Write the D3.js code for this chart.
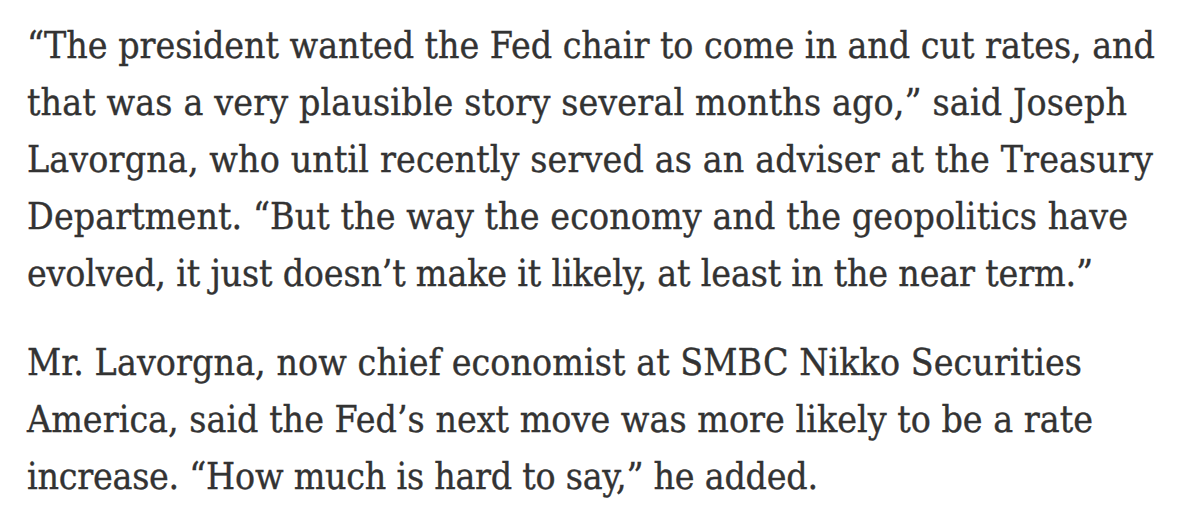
<!DOCTYPE html>
<html>
<head>
<meta charset="utf-8">
<script src="https://cdn.jsdelivr.net/npm/d3@7"></script>
<style>
  html, body { margin: 0; padding: 0; background: #ffffff; }
  svg { display: block; }
</style>
</head>
<body>
<svg id="chart"></svg>
<script>
// Page size
const WIDTH = 1200;
const HEIGHT = 526;

// Text lines, as broken in the reference
const paragraph1 = [
  "\u201CThe president wanted the Fed chair to come in and cut rates, and",
  "that was a very plausible story several months ago,\u201D said Joseph",
  "Lavorgna, who until recently served as an adviser at the Treasury",
  "Department. \u201CBut the way the economy and the geopolitics have",
  "evolved, it just doesn\u2019t make it likely, at least in the near term.\u201D"
];
const paragraph2 = [
  "Mr. Lavorgna, now chief economist at SMBC Nikko Securities",
  "America, said the Fed\u2019s next move was more likely to be a rate",
  "increase. \u201CHow much is hard to say,\u201D he added."
];

// Right edge of each line
const lineEnds1 = [1155, 1127, 1153, 1128, 1093];
const lineEnds2 = [1082, 1093, 818];

const textColor = '#333333';
const leftX = 27;

const svg = d3.select("#chart")
    .attr("width", WIDTH)
    .attr("height", HEIGHT);

// Baselines: one scale per paragraph, 57px leading
const y1 = d3.scaleLinear().domain([0, 4]).range([58, 286]);
const y2 = d3.scaleLinear().domain([0, 2]).range([375, 489]);

function drawParagraph(lines, ends, yScale, cls) {
    return svg.selectAll("text." + cls)
        .data(lines.map((t, i) => ({ text: t, end: ends[i], i: i })))
        .enter()
        .append("text")
        .attr("class", cls)
        .attr("x", leftX)
        .attr("y", d => yScale(d.i))
        .attr("fill", textColor)
        .attr("stroke", textColor)
        .attr("stroke-width", 0.35)
        .style("font-family", "'DejaVu Serif Condensed', 'DejaVu Serif', serif")
        .style("font-stretch", "condensed")
        .style("font-size", "34px")
        .text(d => d.text);
}

drawParagraph(paragraph1, lineEnds1, y1, "p1");
drawParagraph(paragraph2, lineEnds2, y2, "p2");
const all = svg.selectAll("text");

// Fit the font size to the measured line widths, then trim spacing per line
let natural = 0, target = 0;
all.each(function(d) {
    natural += this.getComputedTextLength();
    target += d.end - leftX;
});
const fontSize = 34 * target / natural;
all.style("font-size", fontSize + "px")
    .attr("textLength", d => d.end - leftX)
    .attr("lengthAdjust", "spacing");
</script>
</body>
</html>
